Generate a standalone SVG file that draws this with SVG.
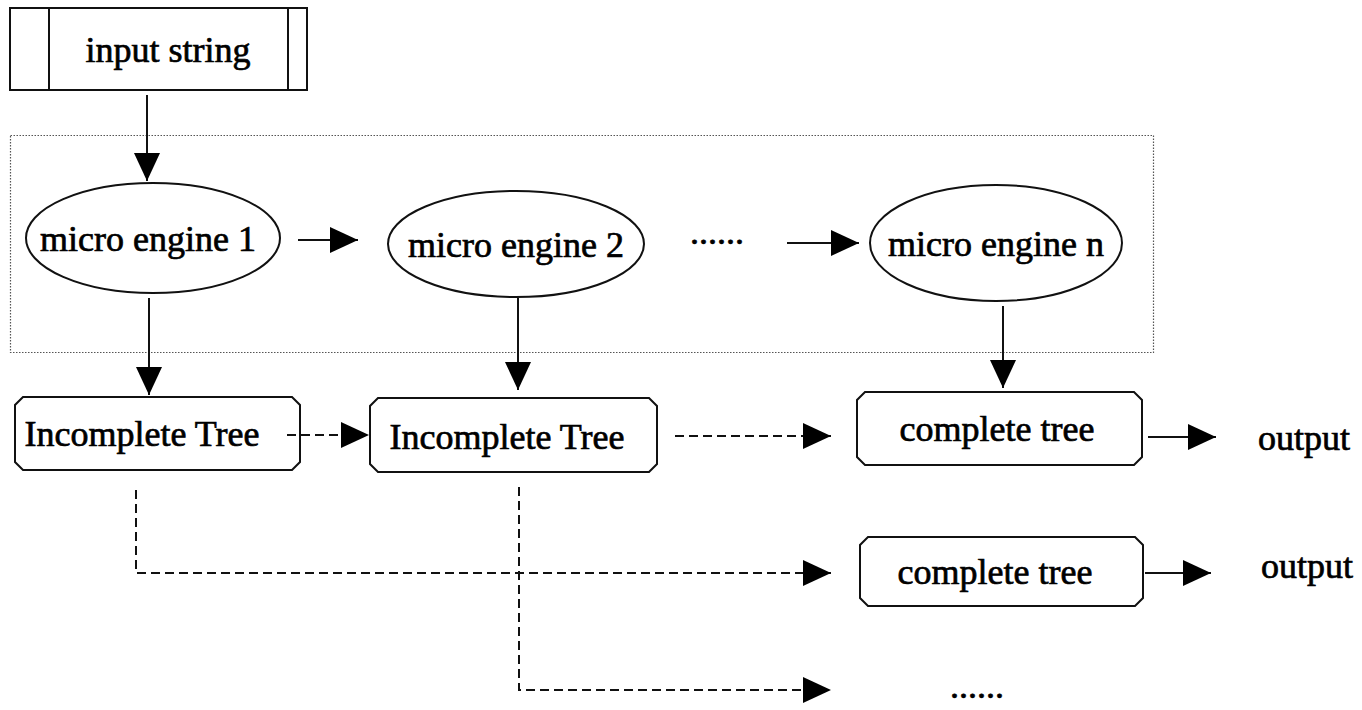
<svg xmlns="http://www.w3.org/2000/svg" width="1362" height="710" viewBox="0 0 1362 710">
  <style>
    .lbl { font-family: "Liberation Serif", "Times New Roman", serif; font-size: 36px; fill: #000; stroke: #000; stroke-width: 0.7; text-anchor: middle; }
    .shape { fill: #fff; stroke: #111; stroke-width: 2; }
    .line { fill: none; stroke: #111; stroke-width: 2; }
    .dash { fill: none; stroke: #111; stroke-width: 2; stroke-dasharray: 9 5; }
    .frame { fill: none; stroke: #555; stroke-width: 1.2; stroke-dasharray: 1.5 1.5; }
  </style>
  <defs>
    <marker id="arrow" viewBox="0 0 28 26" refX="28" refY="13" markerWidth="28" markerHeight="26" markerUnits="userSpaceOnUse" orient="auto">
      <path d="M0,0 L28,13 L0,26 z" fill="#000" stroke="none"/>
    </marker>
  </defs>

  <rect width="1362" height="710" fill="#fff"/>

  <!-- engine group frame -->
  <rect class="frame" x="10.5" y="135.5" width="1143" height="217"/>

  <g id="input">
    <rect class="shape" x="10" y="8" width="297" height="82"/>
    <line class="line" x1="49" y1="8" x2="49" y2="90"/>
    <line class="line" x1="288" y1="8" x2="288" y2="90"/>
    <text class="lbl" x="168" y="62">input string</text>
  </g>

  <g id="engine1">
    <ellipse class="shape" cx="153" cy="238" rx="127" ry="55"/>
    <text class="lbl" x="148" y="251">micro engine 1</text>
  </g>
  <g id="engine2">
    <ellipse class="shape" cx="516" cy="244" rx="128" ry="53"/>
    <text class="lbl" x="516" y="257">micro engine 2</text>
  </g>
  <g id="engine-dots">
    <text class="lbl" x="717" y="244">......</text>
  </g>
  <g id="engineN">
    <ellipse class="shape" cx="996" cy="243" rx="126" ry="58"/>
    <text class="lbl" x="996" y="256">micro engine n</text>
  </g>

  <g id="tree1">
    <path class="shape" d="M23,397 H292 L300,405 V462 L292,470 H23 L15,462 V405 Z"/>
    <text class="lbl" x="142" y="446">Incomplete Tree</text>
  </g>
  <g id="tree2">
    <path class="shape" d="M378,398 H649 L657,406 V464 L649,472 H378 L370,464 V406 Z"/>
    <text class="lbl" x="507" y="449">Incomplete Tree</text>
  </g>
  <g id="complete1">
    <path class="shape" d="M865,392 H1134 L1142,400 V457 L1134,465 H865 L857,457 V400 Z"/>
    <text class="lbl" x="997" y="441">complete tree</text>
  </g>
  <g id="output1">
    <text class="lbl" x="1304" y="450">output</text>
  </g>
  <g id="complete2">
    <path class="shape" d="M868,537 H1135 L1143,545 V598 L1135,606 H868 L860,598 V545 Z"/>
    <text class="lbl" x="995" y="584">complete tree</text>
  </g>
  <g id="output2">
    <text class="lbl" x="1307" y="578">output</text>
  </g>
  <g id="more-dots">
    <text class="lbl" x="977" y="698">......</text>
  </g>

  <g id="connectors">
    <line class="line" x1="147" y1="95" x2="147" y2="181" marker-end="url(#arrow)"/>
    <line class="line" x1="298" y1="240" x2="358" y2="240" marker-end="url(#arrow)"/>
    <line class="line" x1="787" y1="243" x2="859" y2="243" marker-end="url(#arrow)"/>
    <line class="line" x1="149" y1="298" x2="149" y2="395" marker-end="url(#arrow)"/>
    <line class="line" x1="518" y1="298" x2="518" y2="390" marker-end="url(#arrow)"/>
    <line class="line" x1="1003" y1="306" x2="1003" y2="388" marker-end="url(#arrow)"/>
    <line class="dash" x1="287" y1="435" x2="369" y2="435" marker-end="url(#arrow)"/>
    <line class="dash" x1="675" y1="436" x2="831" y2="436" marker-end="url(#arrow)"/>
    <line class="line" x1="1148" y1="437" x2="1216" y2="437" marker-end="url(#arrow)"/>
    <path class="dash" d="M136,490 V573 H831" marker-end="url(#arrow)"/>
    <line class="line" x1="1145" y1="573" x2="1211" y2="573" marker-end="url(#arrow)"/>
    <path class="dash" d="M519,487 V690 H831" marker-end="url(#arrow)"/>
  </g>
</svg>
